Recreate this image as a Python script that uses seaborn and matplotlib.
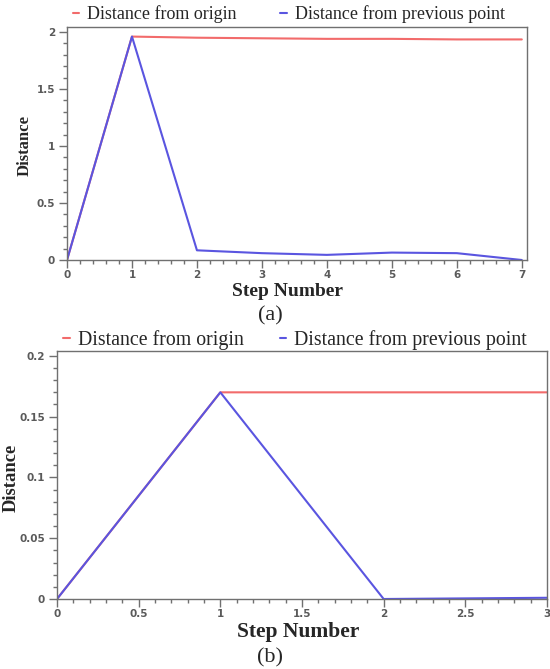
import numpy as np
import seaborn as sns
import matplotlib.pyplot as plt
from matplotlib.lines import Line2D
from matplotlib.ticker import MultipleLocator

# panel (a)
steps_a = [0, 1, 2, 3, 4, 5, 6, 7]
origin_a = [0, 1.96, 1.95, 1.945, 1.94, 1.94, 1.935, 1.935]
prev_a = [0, 1.96, 0.085, 0.06, 0.045, 0.065, 0.06, 0.0]

# panel (b)
steps_b = [0, 1, 2, 3]
origin_b = [0, 0.17, 0.17, 0.17]
prev_b = [0, 0.17, 0.0, 0.001]

labels = ['Distance from origin', 'Distance from previous point']

sns.set_style('ticks')
plt.rcParams['font.family'] = ['Liberation Serif', 'DejaVu Serif']

W, H = 550, 669
red = '#f26b6b'
blue = '#5a55e0'
grey = '#707070'

fig = plt.figure(figsize=(W / 100, H / 100), dpi=100)


def px_axes(left, top, right, bottom):
    return fig.add_axes([left / W, 1 - bottom / H, (right - left) / W, (bottom - top) / H])


def fmt(v, pos):
    return '%g' % v


def style_axes(ax, xmaj, xmin, ymaj, ymin):
    ax.xaxis.set_major_locator(MultipleLocator(xmaj))
    ax.xaxis.set_minor_locator(MultipleLocator(xmin))
    ax.yaxis.set_major_locator(MultipleLocator(ymaj))
    ax.yaxis.set_minor_locator(MultipleLocator(ymin))
    ax.xaxis.set_major_formatter(plt.FuncFormatter(fmt))
    ax.yaxis.set_major_formatter(plt.FuncFormatter(fmt))
    for s in ax.spines.values():
        s.set_color(grey)
        s.set_linewidth(1.0)
    ax.tick_params(which='major', length=6, width=1, color=grey, labelcolor='#5a5a5a',
                   labelsize=7.5, pad=2.5, direction='out')
    ax.tick_params(axis='x', which='major', pad=1.5)
    ax.tick_params(which='minor', length=3, width=1, color=grey, direction='out')
    for lab in ax.get_xticklabels() + ax.get_yticklabels():
        lab.set_fontfamily('DejaVu Sans')
        lab.set_fontweight('bold')


def add_legend(x, y, size, colsp, pad):
    handles = [Line2D([], [], color=red, lw=1.5), Line2D([], [], color=blue, lw=1.5)]
    fig.legend(handles, labels, ncol=2, frameon=False, fontsize=size,
               handlelength=0.35, handletextpad=pad, columnspacing=colsp,
               loc='center left', bbox_to_anchor=(x / W, 1 - y / H),
               borderaxespad=0, borderpad=0)


# (a)
ax1 = px_axes(67, 27, 527, 260)
sns.lineplot(x=steps_a, y=origin_a, color=red, lw=1.5, ax=ax1)
sns.lineplot(x=steps_a, y=prev_a, color=blue, lw=1.5, ax=ax1)
ax1.set_xlim(0, 7.08)
ax1.set_ylim(0, 2.044)
style_axes(ax1, 1, 0.2, 0.5, 0.1)
ax1.set_xlabel('Step Number', fontsize=14, fontweight='bold')
ax1.xaxis.set_label_coords(287 / W, 1 - 292 / H, transform=fig.transFigure)
ax1.xaxis.label.set_va('center')
ax1.set_ylabel('Distance', fontsize=12, fontweight='bold', va='center')
ax1.yaxis.set_label_coords(25 / W, 1 - 145 / H, transform=fig.transFigure)
add_legend(73, 14, 13, 2.4, 0.45)
fig.text(270 / W, 1 - 316 / H, '(a)', ha='center', va='center', fontsize=16)

# (b)
ax2 = px_axes(57, 351, 547, 599)
sns.lineplot(x=steps_b, y=origin_b, color=red, lw=1.5, ax=ax2)
sns.lineplot(x=steps_b, y=prev_b, color=blue, lw=1.5, ax=ax2)
ax2.set_xlim(0, 3)
ax2.set_ylim(0, 0.204)
style_axes(ax2, 0.5, 0.1, 0.05, 0.01)
ax2.set_xlabel('Step Number', fontsize=15.5, fontweight='bold')
ax2.xaxis.set_label_coords(298 / W, 1 - 632 / H, transform=fig.transFigure)
ax2.xaxis.label.set_va('center')
ax2.set_ylabel('Distance', fontsize=13.4, fontweight='bold', va='center')
ax2.yaxis.set_label_coords(11 / W, 1 - 478 / H, transform=fig.transFigure)
add_legend(63, 340, 14.3, 1.8, 0.4)
fig.text(270 / W, 1 - 658 / H, '(b)', ha='center', va='center', fontsize=16)

fig.savefig('out.png', dpi=100)
